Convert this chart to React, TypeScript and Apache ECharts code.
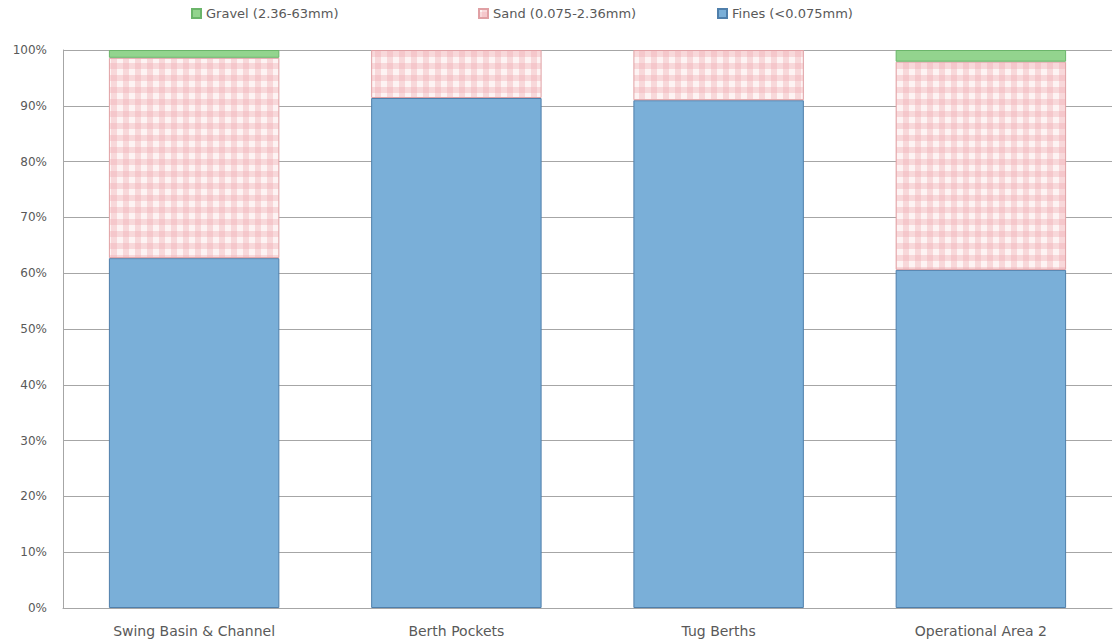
import React, { useEffect, useRef } from "react";
import * as echarts from "echarts";

const categories = ["Swing Basin & Channel", "Berth Pockets", "Tug Berths", "Operational Area 2"];
const fines = [62.7, 91.4, 91.0, 60.6];
const sand = [35.9, 8.6, 9.0, 37.3];
const gravel = [1.4, 0, 0, 2.1];
const yTicks = [0, 10, 20, 30, 40, 50, 60, 70, 80, 90, 100];

const FONT = "'DejaVu Sans', sans-serif";

function makePattern(): HTMLCanvasElement {
  const c = document.createElement("canvas");
  c.width = 12;
  c.height = 12;
  const g = c.getContext("2d")!;
  g.fillStyle = "#fdf3f3";
  g.fillRect(0, 0, 12, 12);
  g.fillStyle = "rgba(240,175,180,0.4)";
  g.fillRect(0, 3, 12, 6);
  g.fillRect(3, 0, 6, 12);
  return c;
}

const noZeroBorder = (arr: number[]) =>
  arr.map((v) => (v === 0 ? { value: v, itemStyle: { borderWidth: 0 } } : v));

export default function App() {
  const ref = useRef<HTMLDivElement>(null);
  useEffect(() => {
    if (!ref.current) return;
    const chart = echarts.init(ref.current, undefined, { renderer: "svg" });
    const pattern = makePattern();
    const legendCommon = {
      top: 2,
      itemWidth: 9,
      itemHeight: 9,
      icon: "rect",
      textStyle: { fontFamily: FONT, fontSize: 13, color: "#595959" },
      selectedMode: false as const,
    };
    chart.setOption({
      animation: false,
      backgroundColor: "#ffffff",
      legend: [
        { ...legendCommon, left: 186, data: ["Gravel (2.36-63mm)"] },
        { ...legendCommon, left: 473, data: ["Sand (0.075-2.36mm)"] },
        { ...legendCommon, left: 712, data: ["Fines (<0.075mm)"] },
      ],
      grid: { left: 63, right: 3, top: 50, bottom: 35, containLabel: false },
      xAxis: {
        type: "category",
        data: categories,
        axisTick: { show: false },
        axisLine: { lineStyle: { color: "#a6a6a6", width: 1 } },
        axisLabel: { fontFamily: FONT, fontSize: 14, color: "#595959", margin: 16 },
      },
      yAxis: {
        type: "value",
        min: 0,
        max: 100,
        interval: 10,
        axisLine: { show: true, lineStyle: { color: "#a6a6a6", width: 1 } },
        axisTick: { show: false },
        splitLine: { lineStyle: { color: "#a6a6a6", width: 1 } },
        axisLabel: {
          fontFamily: FONT,
          fontSize: 12,
          color: "#595959",
          margin: 16,
          formatter: (v: number) => (yTicks.includes(v) ? v + "%" : ""),
        },
      },
      series: [
        {
          name: "Fines (<0.075mm)",
          type: "bar",
          stack: "total",
          barWidth: "65%",
          data: fines,
          itemStyle: { color: "#7aafd8", borderColor: "#4f7fab", borderWidth: 1 },
        },
        {
          name: "Sand (0.075-2.36mm)",
          type: "bar",
          stack: "total",
          data: noZeroBorder(sand),
          itemStyle: {
            color: { image: pattern, repeat: "repeat" },
            borderColor: "#e0a0a4",
            borderWidth: 1,
          },
        },
        {
          name: "Gravel (2.36-63mm)",
          type: "bar",
          stack: "total",
          data: noZeroBorder(gravel),
          itemStyle: { color: "#93d48e", borderColor: "#6bb56a", borderWidth: 1 },
        },
      ],
    });
    return () => chart.dispose();
  }, []);
  return <div ref={ref} style={{ width: 1115, height: 643, position: "absolute", left: 0, top: 0 }} />;
}
